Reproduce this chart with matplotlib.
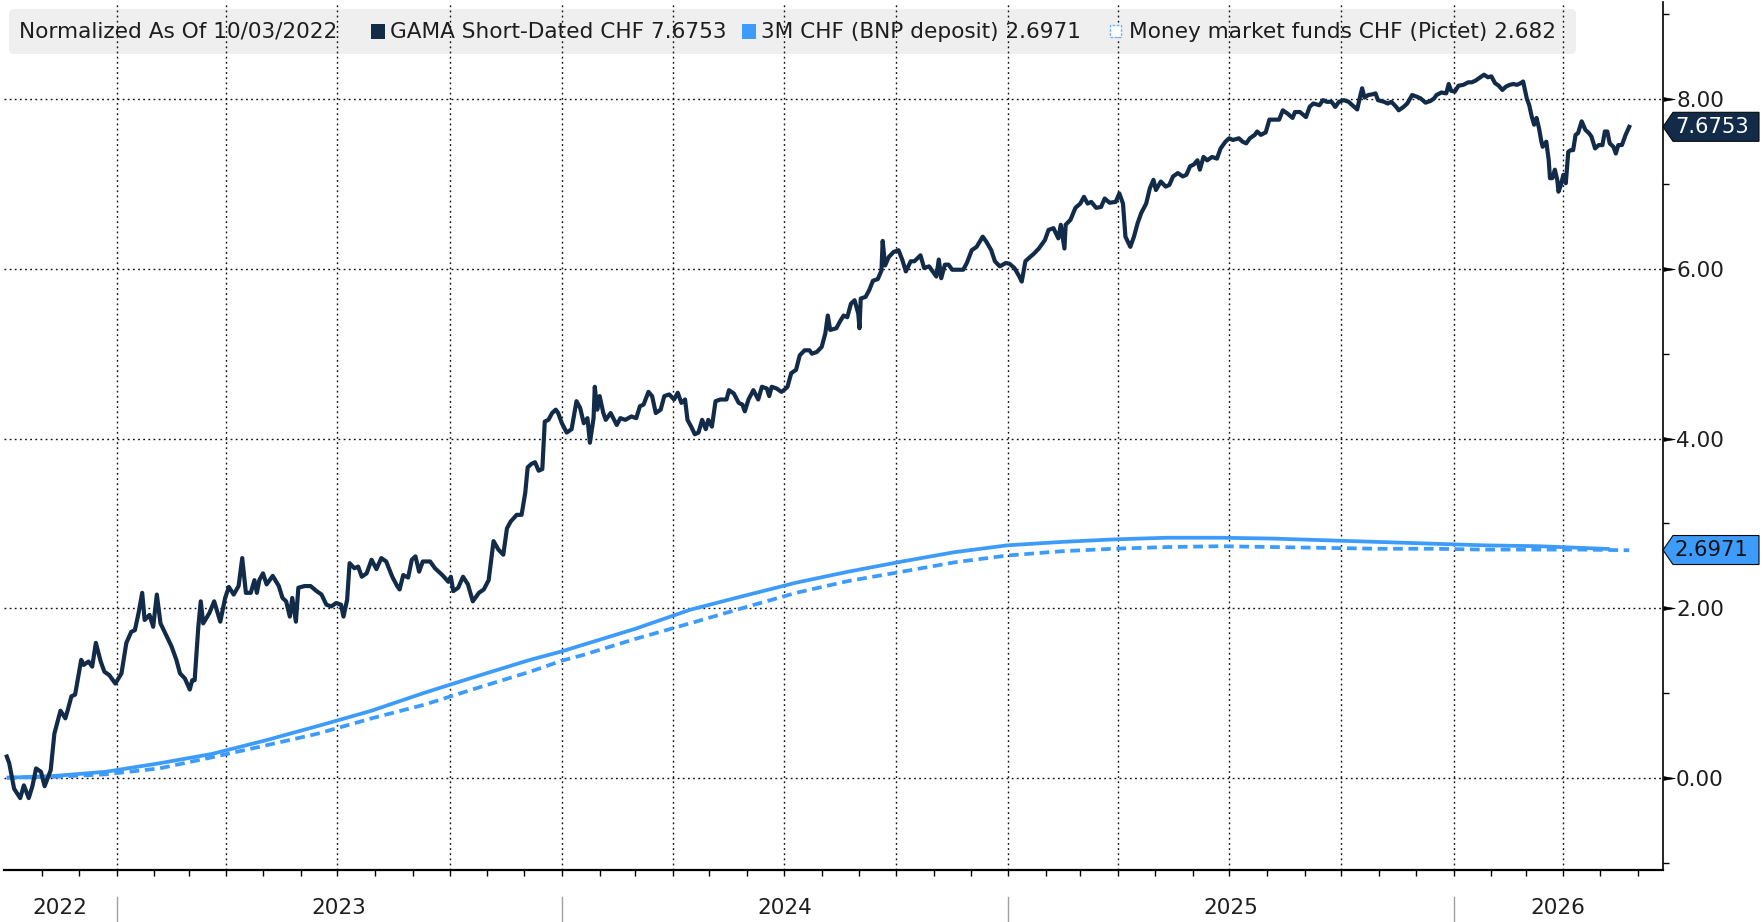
import numpy as np
import pandas as pd
import matplotlib
matplotlib.use("Agg")
import matplotlib.pyplot as plt
import matplotlib.dates as mdates
from matplotlib.patches import Polygon, Rectangle, FancyBboxPatch
import matplotlib.transforms as mtransforms

plt.rcParams['font.family'] = ['DejaVu Sans']

# ---------------- data ----------------
start_date = "2022-10-03"

# GAMA Short-Dated CHF (normalized, %), x = days since start_date
gama_days_a = [0, 2, 6, 11, 14, 18, 21, 24, 28, 31, 36, 39, 42, 44, 48, 50, 53, 56, 61, 63, 67, 70, 73, 77, 80, 84, 89,
               94, 98, 102, 105, 108, 111, 113, 117, 120, 123, 126, 131, 135, 139, 142, 146, 150, 152, 154, 157, 159, 161, 166, 170, 175, 179]
gama_vals_a = [0.25, 0.17, -0.13, -0.24, -0.09, -0.24, -0.10, 0.11, 0.07, -0.10, 0.09, 0.52, 0.68, 0.79, 0.70, 0.80, 0.96, 0.98, 1.39, 1.33, 1.37, 1.31, 1.59, 1.37, 1.25, 1.21, 1.11,
               1.23, 1.59, 1.72, 1.74, 1.94, 2.18, 1.86, 1.92, 1.78, 2.16, 1.82, 1.67, 1.55, 1.39, 1.23, 1.17, 1.04, 1.15, 1.15, 1.78, 2.08, 1.82, 1.94, 2.08, 1.84, 2.12]

gama_days_b = [182, 186, 190, 193, 196, 200, 203, 205, 207, 210, 213, 218, 223, 226, 229, 232, 234, 237, 239, 244, 249, 254, 258, 262, 266, 270,
               274, 276, 279, 281, 285, 288, 291, 295, 299, 303, 307, 311, 316, 320, 322, 325, 329, 332, 335, 338, 341, 347, 351, 357, 362,
               364, 366, 370, 374, 378, 382, 387, 391, 395, 399, 403, 407, 410, 413, 418, 422, 425]
gama_vals_b = [2.25, 2.16, 2.26, 2.59, 2.18, 2.18, 2.33, 2.18, 2.33, 2.41, 2.28, 2.38, 2.26, 2.12, 2.08, 1.90, 2.12, 1.84, 2.24, 2.26, 2.26, 2.20, 2.16, 2.04, 2.02, 2.06,
               2.04, 1.90, 2.10, 2.53, 2.47, 2.49, 2.37, 2.41, 2.57, 2.46, 2.59, 2.55, 2.37, 2.26, 2.22, 2.39, 2.36, 2.57, 2.61, 2.43, 2.55, 2.55, 2.47, 2.39, 2.31,
               2.37, 2.20, 2.24, 2.37, 2.28, 2.08, 2.18, 2.22, 2.33, 2.79, 2.69, 2.63, 2.94, 3.02, 3.10, 3.10, 3.36]

gama_days_c = [427, 430, 433, 436, 439, 441, 444, 447, 450, 452, 455, 459, 463, 467, 470, 473, 476, 478, 481, 482, 484, 486, 489, 491, 495, 500, 503, 507, 512, 516, 519, 522, 526, 529, 532, 536, 539, 543,
               547, 550, 553, 556, 558, 561, 564, 567, 570, 573, 575, 578, 581, 585, 590, 592, 596, 600, 603, 605, 608, 612, 616, 619, 623, 625, 627, 631, 635,
               637, 640, 643, 647, 650, 654, 658, 660, 664, 668, 671, 673, 675, 680, 683, 686, 689, 692, 695, 698, 699, 700, 704, 707, 710, 714, 717, 718, 720, 723, 727]
gama_vals_c = [3.66, 3.70, 3.72, 3.62, 3.64, 4.20, 4.22, 4.30, 4.34, 4.30, 4.18, 4.07, 4.11, 4.44, 4.36, 4.18, 4.24, 3.95, 4.24, 4.61, 4.34, 4.50, 4.30, 4.22, 4.30, 4.16, 4.24, 4.22, 4.26, 4.24, 4.38, 4.40, 4.55, 4.50, 4.30, 4.34, 4.50, 4.52,
               4.46, 4.54, 4.42, 4.46, 4.22, 4.14, 4.05, 4.07, 4.22, 4.11, 4.22, 4.14, 4.44, 4.46, 4.46, 4.57, 4.53, 4.42, 4.40, 4.32, 4.46, 4.57, 4.46, 4.61, 4.59, 4.50, 4.61, 4.59, 4.55,
               4.57, 4.61, 4.77, 4.81, 4.98, 5.04, 5.04, 5.00, 5.02, 5.08, 5.24, 5.45, 5.28, 5.30, 5.38, 5.45, 5.43, 5.59, 5.63, 5.47, 5.30, 5.65, 5.67, 5.75, 5.86, 5.88, 5.98, 6.33, 6.04, 6.14, 6.20]

gama_days_d = [731, 734, 737, 741, 744, 749, 752, 756, 759, 762, 764, 766, 769, 772, 775, 780, 784, 787, 791, 795, 800, 803, 807, 810, 814, 819,
               822, 826, 830, 832, 835, 838, 842, 846, 851, 854, 858, 862, 864, 867, 868, 872, 876, 880, 883, 886, 889, 893, 897, 900, 904, 909,
               912, 915, 917, 919, 921, 924, 927, 930, 934, 937, 940, 942, 946, 950, 953, 956, 960, 964, 967, 970, 973, 976, 978, 981, 984, 988, 992, 995, 999,
               1002, 1005, 1010, 1013, 1016, 1019, 1023, 1025, 1028, 1032, 1035, 1038, 1043, 1046, 1050, 1054, 1056, 1060]
gama_vals_d = [6.22, 6.11, 5.97, 6.09, 6.09, 6.16, 6.01, 6.03, 5.97, 5.91, 6.11, 5.89, 6.05, 6.05, 5.99, 5.99, 5.99, 6.07, 6.22, 6.26, 6.38, 6.32, 6.22, 6.09, 6.03, 6.07,
               6.06, 6.01, 5.91, 5.85, 6.09, 6.13, 6.18, 6.24, 6.34, 6.46, 6.48, 6.36, 6.52, 6.24, 6.52, 6.58, 6.72, 6.77, 6.85, 6.77, 6.79, 6.72, 6.73, 6.83, 6.78, 6.79,
               6.89, 6.77, 6.38, 6.32, 6.26, 6.38, 6.54, 6.66, 6.77, 6.95, 7.05, 6.93, 7.03, 6.97, 6.99, 7.09, 7.13, 7.09, 7.11, 7.21, 7.23, 7.28, 7.17, 7.32, 7.28, 7.32, 7.30, 7.42, 7.50,
               7.54, 7.52, 7.54, 7.50, 7.48, 7.54, 7.58, 7.62, 7.58, 7.61, 7.76, 7.76, 7.76, 7.87, 7.83, 7.78, 7.85, 7.85]

gama_days_e = [1065, 1068, 1071, 1076, 1079, 1082, 1086, 1089, 1092, 1096, 1100, 1103, 1107, 1109, 1111, 1113, 1116, 1120, 1122, 1124, 1129, 1132, 1135, 1139, 1141, 1145, 1148, 1152, 1156, 1159, 1163, 1167, 1170, 1172, 1176, 1180, 1182, 1184,
               1187, 1190, 1194, 1198, 1201, 1204, 1207, 1211, 1214, 1217, 1220, 1223, 1226, 1229, 1232, 1235, 1238, 1241, 1243, 1246, 1248, 1250, 1252, 1254, 1256, 1258, 1259, 1262, 1264, 1265, 1267, 1269, 1271, 1272, 1274, 1276,
               1278, 1280, 1282, 1284, 1286, 1288, 1291, 1294, 1297, 1299, 1302, 1305, 1308, 1310, 1312, 1314, 1317, 1319, 1321, 1324, 1327, 1330]
gama_vals_e = [7.79, 7.91, 7.95, 7.93, 7.99, 7.97, 7.97, 7.91, 7.97, 7.99, 7.97, 7.93, 7.88, 8.01, 8.13, 8.02, 8.05, 8.06, 8.07, 7.99, 7.97, 7.95, 7.97, 7.91, 7.87, 7.91, 7.95, 8.05, 8.03, 8.01, 7.96, 7.98, 8.01, 8.05, 8.08, 8.07, 8.18, 8.10,
               8.09, 8.16, 8.17, 8.20, 8.20, 8.22, 8.25, 8.29, 8.26, 8.27, 8.19, 8.16, 8.11, 8.15, 8.17, 8.18, 8.17, 8.19, 8.21, 8.01, 7.93, 7.80, 7.70, 7.78, 7.66, 7.50, 7.44, 7.50, 7.28, 7.07, 7.07, 7.17, 7.05, 6.91, 6.99, 7.11,
               7.01, 7.38, 7.40, 7.40, 7.58, 7.60, 7.74, 7.64, 7.60, 7.56, 7.42, 7.46, 7.46, 7.62, 7.62, 7.48, 7.44, 7.36, 7.46, 7.46, 7.58, 7.6753]

# 3M CHF (BNP deposit)
deposit_days = [0, 38, 81, 125, 168, 212, 255, 299, 342, 386, 429, 455, 473, 516, 560, 603, 647, 690, 734, 777, 820,
                864, 907, 951, 995, 1038, 1081, 1125, 1168, 1212, 1256, 1291, 1314]
deposit_vals = [0.00, 0.02, 0.07, 0.17, 0.28, 0.44, 0.61, 0.79, 1.00, 1.20, 1.39, 1.49, 1.57, 1.76, 1.98, 2.14, 2.30, 2.43, 2.55, 2.66, 2.74,
                2.78, 2.81, 2.83, 2.83, 2.82, 2.80, 2.78, 2.76, 2.74, 2.73, 2.71, 2.6971]

# Money market funds CHF (Pictet)
mmf_days = [0, 38, 81, 125, 168, 212, 255, 299, 342, 386, 429, 455, 473, 516, 560, 603, 647, 690, 734, 777, 820,
            864, 907, 951, 995, 1038, 1081, 1125, 1168, 1212, 1256, 1291, 1330]
mmf_vals = [0.00, 0.01, 0.04, 0.11, 0.24, 0.38, 0.52, 0.70, 0.86, 1.06, 1.25, 1.38, 1.45, 1.64, 1.82, 2.00, 2.18, 2.32, 2.43, 2.54, 2.62,
            2.67, 2.70, 2.72, 2.73, 2.72, 2.71, 2.70, 2.70, 2.69, 2.69, 2.69, 2.682]

legend_title = "Normalized As Of 10/03/2022"
series_names = ["GAMA Short-Dated CHF", "3M CHF (BNP deposit)", "Money market funds CHF (Pictet)"]
last_values = ["7.6753", "2.6971", "2.682"]
y_ticks = [0, 2, 4, 6, 8]
y_tick_labels = ["0.00", "2.00", "4.00", "6.00", "8.00"]
years = ["2022", "2023", "2024", "2025", "2026"]

# ---------------- styles ----------------
NAVY = "#122b49"
BLUE = "#3d9cfb"
TXT = "#1e1e1e"
W, H = 1763, 922
FS = 15.6

base = np.datetime64(start_date)


def to_dates(days):
    return base + np.array(days, dtype="timedelta64[D]")


gama_days = gama_days_a + gama_days_b + gama_days_c + gama_days_d + gama_days_e
gama_vals = gama_vals_a + gama_vals_b + gama_vals_c + gama_vals_d + gama_vals_e

fig = plt.figure(figsize=(W / 100, H / 100), dpi=100)
fig.patch.set_facecolor("white")
ax = fig.add_axes([4 / W, 52 / H, (1663 - 4) / W, (870 - 2) / H])
ax.set_facecolor("white")

ax.plot(to_dates(deposit_days), deposit_vals, color=BLUE, lw=2.7, zorder=3, solid_capstyle="butt")
ax.plot(to_dates(mmf_days), mmf_vals, color=BLUE, lw=2.7, ls=(0, (2.6, 1.5)), zorder=3)
ax.plot(to_dates(gama_days), gama_vals, color=NAVY, lw=3.0, zorder=4, solid_joinstyle="round")

ax.set_ylim(-1.088, 9.147)
ax.set_xlim(pd.Timestamp("2022-09-30 17:00"), pd.Timestamp("2026-06-21 16:00"))

# x axis
major_x = pd.date_range("2023-01-01", "2026-04-01", freq="QS")
minor_x = pd.date_range("2022-11-01", "2026-06-01", freq="MS")
ax.set_xticks(major_x)
ax.set_xticks(minor_x, minor=True)
ax.tick_params(axis="x", which="both", direction="out", length=4, width=1, color="black",
               labelbottom=False)

# y axis
ax.yaxis.tick_right()
ax.set_yticks(y_ticks)
ax.set_yticklabels(y_tick_labels)
ax.set_yticks([-1, 1, 3, 5, 7, 9], minor=True)
ax.tick_params(axis="y", which="major", length=0, pad=9.4, labelsize=FS, labelcolor=TXT)
ax.tick_params(axis="y", which="minor", length=4, width=1, direction="out", color="black")

ax.set_axisbelow("line")
ax.grid(True, which="major", axis="both", color="#111111", lw=1.0, ls=(0, (1.3, 2.4)))

for s in ["top", "left"]:
    ax.spines[s].set_visible(False)
ax.spines["right"].set_linewidth(1.2)
ax.spines["bottom"].set_linewidth(1.6)

# arrow-shaped major ticks on right
tri = [(0, -0.5), (3, 0), (0, 0.5)]
ax.plot([1] * len(y_ticks), y_ticks, transform=ax.get_yaxis_transform(), ls="none",
        marker=tri, ms=17, color="black", mew=0.4, clip_on=False, zorder=6)

# year labels and separators
xl = ax.get_xlim()
jan = [mdates.date2num(pd.Timestamp(f"{y}-01-01")) for y in years[1:]]
bounds = [xl[0]] + jan + [xl[1]]
bt = mtransforms.blended_transform_factory(ax.transData, ax.transAxes)
ax_h = 868.0
for i, y in enumerate(years):
    cx = (bounds[i] + bounds[i + 1]) / 2
    ax.text(cx, -(908 - 870) / ax_h, y, transform=bt, ha="center", va="center",
            fontsize=FS, color=TXT, clip_on=False)
for j in jan:
    ax.plot([j, j], [-(897 - 870) / ax_h, -(922 - 870) / ax_h], transform=bt,
            color="#a0a0a0", lw=1, clip_on=False)

# value tags at right
ytr = ax.get_yaxis_transform()
aw = 1659.0


def tag(v, text, face, tcolor):
    hh = 14.5 / 84.8
    pts = [(1.0, v), (1 + 10 / aw, v + hh), (1 + 96 / aw, v + hh), (1 + 96 / aw, v - hh),
           (1 + 10 / aw, v - hh)]
    ax.add_patch(Polygon(pts, closed=True, transform=ytr, facecolor=face, edgecolor="#0a0a0a",
                         lw=0.8, clip_on=False, zorder=7))
    ax.text(1 + 12 / aw, v, text, transform=ytr, ha="left", va="center", fontsize=FS - 0.4,
            color=tcolor, clip_on=False, zorder=8)


tag(gama_vals[-1], last_values[0], NAVY, "white")
tag(2.685, last_values[1], BLUE, "#111111")

# legend bar
idt = mtransforms.IdentityTransform()
bg = FancyBboxPatch((9, H - 54), 1567, 45, boxstyle="round,pad=0,rounding_size=5",
                    transform=idt, facecolor="#efefef", edgecolor="none", zorder=1.0, clip_on=False)
ax.add_patch(bg)


def fx(x):
    return x / W


def fy(y):
    return 1 - y / H


ty = fy(31.5)
fig.text(fx(19), ty, legend_title, ha="left", va="center", fontsize=FS, color=TXT)
fig.patches.append(Rectangle((fx(371), fy(39)), 14 / W, 15 / H, transform=fig.transFigure,
                             facecolor=NAVY, edgecolor="none"))
fig.text(fx(390), ty, f"{series_names[0]} {last_values[0]}", ha="left", va="center", fontsize=FS, color=TXT)
fig.patches.append(Rectangle((fx(742), fy(39)), 14 / W, 15 / H, transform=fig.transFigure,
                             facecolor=BLUE, edgecolor="none"))
fig.text(fx(761), ty, f"{series_names[1]} {last_values[1]}", ha="left", va="center", fontsize=FS, color=TXT)
fig.patches.append(Rectangle((fx(1110), fy(37)), 11 / W, 12 / H, transform=fig.transFigure,
                             facecolor="white", edgecolor="#6fb4ff", lw=1.0, ls=(0, (2, 1))))
fig.text(fx(1129), ty, f"{series_names[2]} {last_values[2]}", ha="left", va="center", fontsize=FS, color=TXT)

fig.savefig("out.png", dpi=100, facecolor="white")
